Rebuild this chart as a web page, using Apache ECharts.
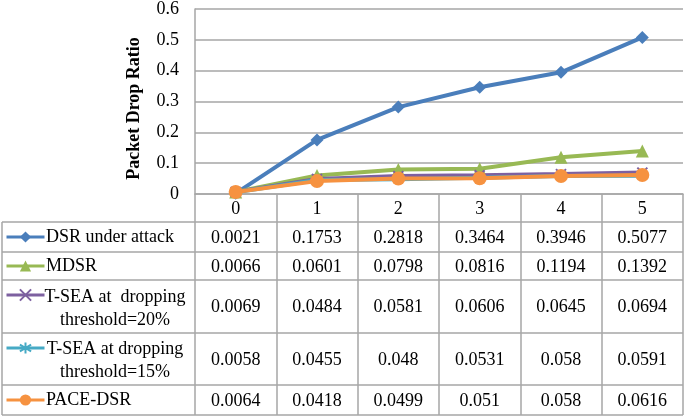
<!DOCTYPE html>
<html>
<head>
<meta charset="utf-8">
<script src="https://cdn.jsdelivr.net/npm/echarts@6/dist/echarts.min.js"></script>
<style>
html,body{margin:0;padding:0;background:#fff;}
#main{width:685px;height:417px;}
</style>
</head>
<body>
<div id="main"></div>
<script>
// ---- data ----
const categories = ['0', '1', '2', '3', '4', '5'];
const seriesNames = ['DSR under attack', 'MDSR', 'T-SEA at  dropping\nthreshold=20%', 'T-SEA at dropping\nthreshold=15%', 'PACE-DSR'];
const dsrUnderAttack = [0.0021, 0.1753, 0.2818, 0.3464, 0.3946, 0.5077];
const mdsr = [0.0066, 0.0601, 0.0798, 0.0816, 0.1194, 0.1392];
const tsea20 = [0.0069, 0.0484, 0.0581, 0.0606, 0.0645, 0.0694];
const tsea15 = [0.0058, 0.0455, 0.048, 0.0531, 0.058, 0.0591];
const paceDsr = [0.0064, 0.0418, 0.0499, 0.051, 0.058, 0.0616];
const yTickMin = 0, yTickMax = 0.6, yTickStep = 0.1;
const yAxisTitle = 'Packet Drop Ratio';

// ---- styles ----
const FONT = "'Times New Roman', 'Liberation Serif', serif";
const FS = 18;
const GRID_COLOR = '#A6A6A6';
const colors = ['#4A7EBB', '#98B954', '#7D60A0', '#46AAC5', '#F69240'];
const symbols = ['diamond', 'triangle', 'path://M0,0L10,10M0,10L10,0', 'path://M5,0L5,10M0,2L10,8M0,8L10,2', 'circle'];
const symbolSizes = [13, 13, 10, 10, 14];
const values = [dsrUnderAttack, mdsr, tsea20, tsea15, paceDsr];
const rowTops = [222, 252, 280, 333, 385, 415];
const iconY = [237, 266, 295, 348, 400];

const chart = echarts.init(document.getElementById('main'), null, {renderer: 'canvas'});

const series = values.map((vals, i) => ({
  name: seriesNames[i],
  type: 'line',
  data: vals,
  symbol: symbols[i],
  symbolSize: symbolSizes[i],
  showAllSymbol: true,
  lineStyle: {width: 4, color: colors[i]},
  itemStyle: (i === 2 || i === 3) ? {color: colors[i], borderColor: colors[i], borderWidth: 2} : {color: colors[i]},
  z: 2 + i,
  animation: false
}));

const legends = seriesNames.map((n, i) => ({
  data: [n],
  left: 5,
  top: iconY[i] - 7,
  padding: 0,
  itemWidth: 38,
  itemHeight: 14,
  formatter: () => '',
  selectedMode: false,
  lineStyle: {width: 3},
  textStyle: {fontSize: 1}
}));

chart.setOption({
  animation: false,
  color: colors,
  legend: legends,
  grid: {left: 195, right: 2, top: 8, bottom: 223, containLabel: false},
  xAxis: {
    type: 'category',
    data: categories,
    boundaryGap: true,
    axisLine: {show: true, lineStyle: {color: GRID_COLOR, width: 1.5}},
    axisTick: {show: true, length: 221, interval: 0, lineStyle: {color: GRID_COLOR, width: 1.5}},
    axisLabel: {margin: 6, color: '#000', fontFamily: FONT, fontSize: FS},
    splitLine: {show: false}
  },
  yAxis: {
    type: 'value',
    min: yTickMin, max: yTickMax, interval: yTickStep,
    name: yAxisTitle,
    nameLocation: 'middle',
    nameRotate: 90,
    nameGap: 52,
    nameTextStyle: {fontFamily: FONT, fontSize: 18, fontWeight: 'bold', color: '#000', padding: [0, 14, 0, 0]},
    axisLine: {show: true, lineStyle: {color: GRID_COLOR, width: 1.5}},
    axisTick: {show: false},
    axisLabel: {margin: 16, color: '#000', fontFamily: FONT, fontSize: FS},
    splitLine: {show: true, lineStyle: {color: GRID_COLOR, width: 1.5}}
  },
  series: series
});

// ---- data table below the plot ----
const graphics = [];
const leftX = 2, rightX = 683;
rowTops.forEach(y => {
  graphics.push({type: 'line', shape: {x1: leftX, y1: y, x2: rightX, y2: y}, style: {stroke: GRID_COLOR, lineWidth: 1.5}, silent: true});
});
graphics.push({type: 'line', shape: {x1: leftX, y1: rowTops[0], x2: leftX, y2: rowTops[rowTops.length - 1]}, style: {stroke: GRID_COLOR, lineWidth: 1.5}, silent: true});

values.forEach((vals, r) => {
  const yc = (rowTops[r] + rowTops[r + 1]) / 2 + 1;
  vals.forEach((v, c) => {
    const x = chart.convertToPixel({xAxisIndex: 0}, categories[c]);
    graphics.push({type: 'text', x: x, y: yc, style: {text: String(v), font: FS + 'px ' + FONT, fill: '#000', align: 'center', verticalAlign: 'middle'}, silent: true});
  });
  const name = seriesNames[r];
  if (name.indexOf('\n') >= 0) {
    graphics.push({type: 'text', x: 115, y: yc + 1, style: {text: name, font: FS + 'px ' + FONT, fill: '#000', align: 'center', verticalAlign: 'middle', lineHeight: 23}, silent: true});
  } else {
    graphics.push({type: 'text', x: 46, y: iconY[r], style: {text: name, font: FS + 'px ' + FONT, fill: '#000', align: 'left', verticalAlign: 'middle'}, silent: true});
  }
});

chart.setOption({graphic: graphics});
</script>
</body>
</html>
